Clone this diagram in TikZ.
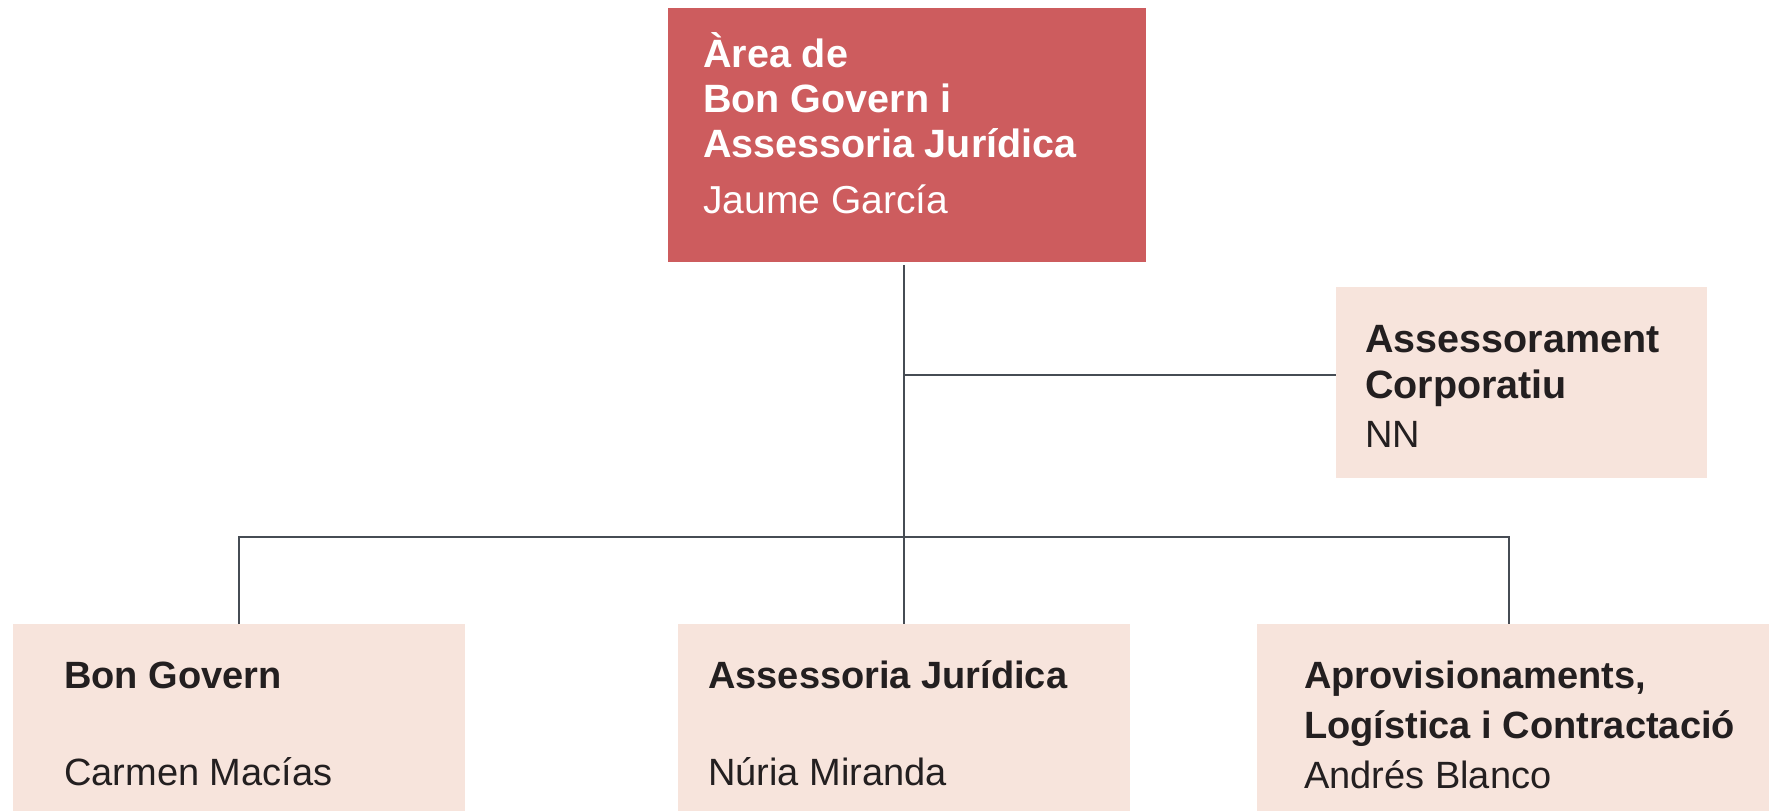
\documentclass[tikz,border=0pt]{standalone}
\usepackage{fontspec}
\setmainfont{Liberation Sans}
\definecolor{topred}{RGB}{205,92,94}
\definecolor{pale}{RGB}{247,228,220}
\definecolor{linec}{RGB}{70,76,84}
\definecolor{ink}{RGB}{35,31,32}
\tikzset{
  redbox/.style={fill=topred, draw=none, inner sep=0pt, outer sep=0pt, anchor=north west},
  palebox/.style={fill=pale, draw=none, inner sep=0pt, outer sep=0pt, anchor=north west},
  conn/.style={draw=linec, line width=1.4pt},
  hdw/.style={anchor=base west, inner sep=0pt, text=white, font=\bfseries\fontsize{39.5}{39.5}\selectfont},
  nmw/.style={anchor=base west, inner sep=0pt, text=white, font=\fontsize{39}{39}\selectfont},
  hd/.style={anchor=base west, inner sep=0pt, text=ink, font=\bfseries\fontsize{38}{38}\selectfont},
  hdc/.style={anchor=base west, inner sep=0pt, text=ink, font=\bfseries\fontsize{39.5}{39.5}\selectfont},
  nm/.style={anchor=base west, inner sep=0pt, text=ink, font=\fontsize{38}{38}\selectfont},
}
\begin{document}
\begin{tikzpicture}[x=1pt,y=-1pt]
\useasboundingbox (0,0) rectangle (1769,811);
% boxes
\node[redbox, minimum width=478pt, minimum height=254pt] (top) at (668,8) {};
\node[palebox, minimum width=371pt, minimum height=191pt] (ac) at (1336,287) {};
\node[palebox, minimum width=452pt, minimum height=187pt] (bg) at (13,624) {};
\node[palebox, minimum width=452pt, minimum height=187pt] (aj) at (678,624) {};
\node[palebox, minimum width=512pt, minimum height=187pt] (ap) at (1257,624) {};
% texts
\node[hdw] (t1) at (703,67) {Àrea de};
\node[hdw] (t2) at (703,112) {Bon Govern i};
\node[hdw] (t3) at (703,157) {Assessoria Jurídica};
\node[nmw] (t4) at (703,213) {Jaume García};
\node[hdc] (a1) at (1365,352) {Assessorament};
\node[hdc] (a2) at (1365,398) {Corporatiu};
\node[nm] (a3) at (1365,447) {NN};
\node[hd] (b1) at (64,688) {Bon Govern};
\node[nm] (b2) at (64,785) {Carmen Macías};
\node[hd] (j1) at (708,688) {Assessoria Jurídica};
\node[nm] (j2) at (708,785) {Núria Miranda};
\node[hd] (p1) at (1304,688) {Aprovisionaments,};
\node[hd] (p2) at (1304,738) {Logística i Contractació};
\node[nm] (p3) at (1304,788) {Andrés Blanco};
% connectors
\coordinate (bus) at (904,537);
\draw[conn] ([yshift=-3pt]aj.north |- top.south) -- (aj.north);
\draw[conn] (aj.north |- ac.west) ++(0,-7.5) -- ([yshift=7.5pt]ac.west);
\draw[conn] (bg.north) -- (bg.north |- bus) -- ([xshift=-4pt]ap.north |- bus) -- ([xshift=-4pt]ap.north);
\end{tikzpicture}
\end{document}
